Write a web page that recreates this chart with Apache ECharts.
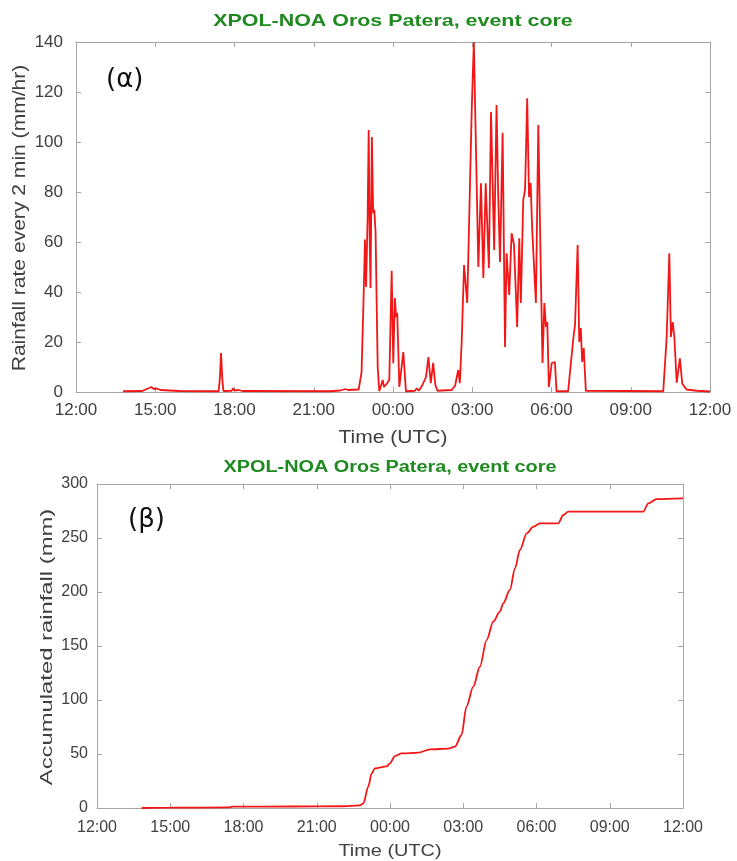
<!DOCTYPE html>
<html>
<head>
<meta charset="utf-8">
<script src="https://cdn.jsdelivr.net/npm/echarts@6/dist/echarts.min.js"></script>
<style>
html,body{margin:0;padding:0;background:#fff;}
#chart{width:737px;height:861px;}
</style>
</head>
<body>
<div id="chart"></div>
<script>
// Tick labels (3-hourly, starting 12:00)
const timeTickLabels = ['12:00','15:00','18:00','21:00','00:00','03:00','06:00','09:00','12:00'];

// (α) rainfall rate every 2 min (mm/hr); time in hours since 12:00 UTC
const rateHours = [1.78,2.5,2.75,2.85,2.95,3.05,3.2,3.9,5.4,5.45,5.49,5.54,5.58,5.9,5.94,6.0,6.15,6.22,6.3,9.6,10.0,10.2,10.3,10.7,
  10.81,10.88,10.94,10.98,11.04,11.08,11.12,11.15,11.2,11.25,11.29,11.34,11.42,11.48,11.56,11.61,11.66,11.72,11.78,11.86,
  11.95,12.01,12.07,12.12,12.16,12.24,12.3,12.39,12.49,12.83,12.9,12.97,13.1,13.25,13.34,13.43,13.52,13.6,13.68,
  14.22,14.35,14.47,14.53,14.6,14.69,14.81,14.98,15.06,15.23,15.33,15.42,15.51,15.63,15.71,15.83,15.92,15.98,16.05,
  16.15,16.24,16.30,16.40,16.49,16.58,16.70,16.78,16.84,16.93,17.0,17.08,17.15,17.21,17.27,17.41,17.50,17.59,17.66,
  17.73,17.79,17.84,17.90,18.01,18.13,18.19,18.63,18.82,18.89,18.99,19.05,19.11,19.16,19.22,19.30,
  22.23,22.36,22.46,22.52,22.59,22.65,22.74,22.86,22.95,23.11,23.5,24];
const rateValues = [0.3,0.4,1.5,2.0,1.2,1.4,0.8,0.4,0.3,6,15.6,5,0.4,0.5,1.5,0.6,0.8,1.5,0.4,0.3,0.6,1.2,0.8,1.0,
  8,35,61,42,70,104.8,60,41.6,102,71.5,73,64,10,0.3,3,4.8,2,2.5,3.5,5,
  48.5,11.5,37.6,30,31.6,2,1.5,16,0.3,0.5,1.5,0.5,2.5,6,14,3.5,11.7,3,0.5,
  0.8,2.5,8.8,3.5,20,50.8,35.6,112.8,140,50,83.5,45.6,83.5,49.6,112,56.8,114.8,80,52,
  103.7,18,55.5,38.8,63.5,59,26,61.5,35.6,76.8,81,117.5,78,83.6,64.8,35.6,106.8,51.5,11.6,
  35.6,26,28,2,11.6,12,0.3,0.3,20.8,26.8,58.8,20,25.6,12,17.6,0.5,
  0.3,22,55.5,22,28,22,3.7,13.5,3.3,1,0.5,0.2];

// (β) accumulated rainfall (mm); time in hours since 12:00 UTC
const accHours = [1.83,3.0,5.4,5.55,8.0,10.09,10.77,10.91,11.11,11.25,11.38,11.86,12.0,12.2,12.48,13.16,13.64,14.39,14.66,
  14.93,15.13,15.41,15.68,15.96,16.23,16.5,16.64,16.91,17.12,17.32,17.6,17.87,18.14,18.89,19.1,19.3,22.37,22.58,22.92,24];
const accValues = [0,0.3,0.5,1.2,1.4,1.6,2.5,4.3,19.8,32,36.7,38.5,41.4,48.1,50.6,51.2,54.3,55,56.8,
  67.6,93.8,112.3,130.8,155.6,172.5,181.8,189.5,201.9,222,238.9,254.3,260.5,263.6,263.6,271.3,274.4,274.4,282.1,286,286.7];

const titleText = 'XPOL-NOA Oros Patera, event core';
const yNameTop = 'Rainfall rate every 2 min (mm/hr)';
const yNameBottom = 'Accumulated rainfall (mm)';
const xName = 'Time (UTC)';

const FONT = 'Liberation Sans';
const AX = '#a6a6a6';
const TXT = '#404040';
const RED = '#f21616';
const GREEN = '#1f8a1f';

const zip = (a, b) => a.map((v, i) => [v, b[i]]);

function xAxes(grid, fs, margin) {
  return [
    { gridIndex: grid, type: 'value', min: 0, max: 24, interval: 3, position: 'bottom',
      axisLine: { show: true, onZero: false, lineStyle: { color: AX, width: 1 } },
      axisTick: { show: true, inside: true, length: 5, lineStyle: { color: AX } },
      axisLabel: { fontFamily: FONT, fontSize: fs, color: TXT, margin: margin,
        formatter: v => timeTickLabels[Math.round(v / 3)] },
      splitLine: { show: false } },
    { gridIndex: grid, type: 'value', min: 0, max: 24, interval: 3, position: 'top',
      axisLine: { show: true, onZero: false, lineStyle: { color: AX, width: 1 } },
      axisTick: { show: true, inside: true, length: 5, lineStyle: { color: AX } },
      axisLabel: { show: false }, splitLine: { show: false } }
  ];
}
function yAxes(grid, max, interval, fs, margin) {
  return [
    { gridIndex: grid, type: 'value', min: 0, max: max, interval: interval, position: 'left',
      axisLine: { show: true, onZero: false, lineStyle: { color: AX, width: 1 } },
      axisTick: { show: true, inside: true, length: 5, lineStyle: { color: AX } },
      axisLabel: { fontFamily: FONT, fontSize: fs, color: TXT, margin: margin },
      splitLine: { show: false } },
    { gridIndex: grid, type: 'value', min: 0, max: max, interval: interval, position: 'right',
      axisLine: { show: true, onZero: false, lineStyle: { color: AX, width: 1 } },
      axisTick: { show: true, inside: true, length: 5, lineStyle: { color: AX } },
      axisLabel: { show: false }, splitLine: { show: false } }
  ];
}

function label(text, x, y, size, opts) {
  return Object.assign({
    type: 'text', x: x, y: y,
    style: { text: text, fontFamily: FONT, fontSize: size, fill: TXT, align: 'center', verticalAlign: 'middle' }
  }, opts || {});
}

const chart = echarts.init(document.getElementById('chart'), null, { renderer: 'canvas' });
chart.setOption({
  animation: false,
  backgroundColor: '#ffffff',
  grid: [
    { left: 76, top: 42, width: 634, height: 350 },
    { left: 97, top: 484, width: 586, height: 324 }
  ],
  xAxis: [...xAxes(0, 17, 10), ...xAxes(1, 16, 12)],
  yAxis: [...yAxes(0, 140, 20, 17, 13), ...yAxes(1, 300, 50, 16, 9)],
  graphic: [
    // titles
    { type: 'text', x: 393, y: 21, scaleX: 1.26,
      style: { text: titleText, fontFamily: FONT, fontSize: 17, fontWeight: 'bold', fill: GREEN, align: 'center', verticalAlign: 'middle' } },
    { type: 'text', x: 390, y: 468, scaleX: 1.24,
      style: { text: titleText, fontFamily: FONT, fontSize: 16, fontWeight: 'bold', fill: GREEN, align: 'center', verticalAlign: 'middle' } },
    // axis names
    label(xName, 393, 438, 18, { scaleX: 1.17 }),
    label(xName, 390, 851, 17, { scaleX: 1.17 }),
    label(yNameTop, 20, 218, 18, { rotation: Math.PI / 2, scaleX: 1.17 }),
    label(yNameBottom, 47, 647, 17, { rotation: Math.PI / 2, scaleX: 1.4 }),
    // panel letters
    { type: 'text', left: 106, top: 67, style: { text: '(α)', fontFamily: 'DejaVu Sans', fontSize: 26, fill: '#111' } },
    { type: 'text', left: 128, top: 507, style: { text: '(β)', fontFamily: 'DejaVu Sans', fontSize: 26, fill: '#111' } }
  ],
  series: [
    { type: 'line', xAxisIndex: 0, yAxisIndex: 0, data: zip(rateHours, rateValues),
      showSymbol: false, lineStyle: { color: RED, width: 1.8 }, clip: true },
    { type: 'line', xAxisIndex: 2, yAxisIndex: 2, data: zip(accHours, accValues),
      showSymbol: false, smooth: 0.3, smoothMonotone: 'x', lineStyle: { color: RED, width: 1.8 } }
  ]
});
</script>
</body>
</html>
